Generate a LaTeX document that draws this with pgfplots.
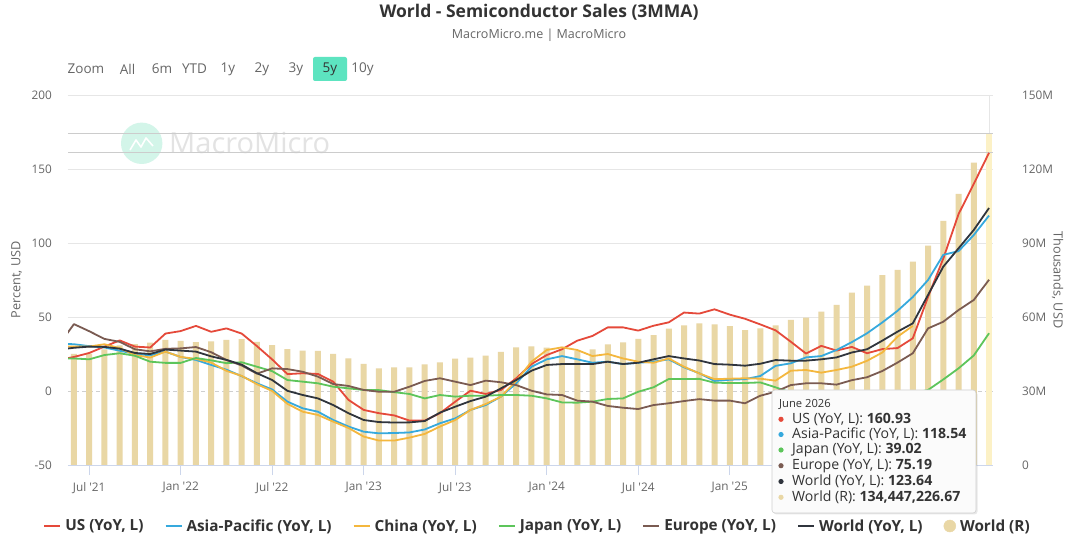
\documentclass[border=0pt]{standalone}
\usepackage{fontspec}
\setmainfont{Open Sans}
\usepackage{pgfplots}
\pgfplotsset{compat=1.18}
\usepackage{pgfplotstable}
\usetikzlibrary{shadows}

\definecolor{usc}{HTML}{E5493A}
\definecolor{apc}{HTML}{36A9DD}
\definecolor{cnc}{HTML}{F4B73E}
\definecolor{jpc}{HTML}{5DC55B}
\definecolor{euc}{HTML}{7A5B52}
\definecolor{wdc}{HTML}{30353D}
\definecolor{barc}{HTML}{E9D7A5}
\definecolor{barhi}{HTML}{FCF1C6}
\definecolor{gridc}{HTML}{E6E6E6}
\definecolor{crossc}{HTML}{CCCCCC}
\definecolor{axc}{HTML}{CCD6EB}
\definecolor{txtc}{HTML}{666666}
\definecolor{ttlc}{HTML}{333333}
\definecolor{btnc}{HTML}{5DE4C0}
\definecolor{wmc}{HTML}{D3F5E9}
\definecolor{wmt}{HTML}{E3E3E3}
\definecolor{ttbord}{HTML}{D0D0D0}
\definecolor{ttfill}{HTML}{FBFBFB}

\newcommand{\titlefont}{\fontsize{17.5}{20}\selectfont\bfseries}
\newcommand{\subfont}{\fontsize{12.5}{15}\selectfont}
\newcommand{\btnfont}{\fontsize{13.5}{16}\selectfont}
\newcommand{\tickfont}{\fontsize{11.8}{14}\selectfont}
\newcommand{\labfont}{\fontsize{12.7}{15}\selectfont}
\newcommand{\legfont}{\fontsize{15.3}{18}\selectfont\bfseries}
\newcommand{\ttfont}{\fontsize{14.1}{16}\selectfont}
\newcommand{\tthfont}{\fontsize{11.2}{13}\selectfont}

\pgfplotstableread{
idx us ap cn jp eu wd
-1 21 32 30 22 31 28
0 23 31.6 30 22 45.2 29.2
1 25.7 30.3 30 21.4 40.4 30
2 30 29.4 31.6 24.3 35.2 29.8
3 34.2 27.2 29 25.5 33.2 28.6
4 30 25.1 24.3 23.8 28.2 25.7
5 29.4 24.1 22.6 19.8 26.8 25
6 38.8 26.6 26.6 19 28.5 28
7 40.5 23 23 19 28.8 27.3
8 44 21 21.7 22.3 29.7 26.6
9 40 17.6 19.2 20.7 26.2 23.4
10 42.3 14.4 13.6 18.8 21 21
11 38.8 10 10.2 19.4 17.2 17.8
12 30.3 5.2 4.6 16.4 11.7 12
13 21.3 1 0 13.4 15.3 7.4
14 11.4 -7.2 -8.7 7.4 14.8 0.1
15 12 -11.7 -14 6.3 13 -2.7
16 11.5 -14 -16.2 5.2 9.7 -5
17 6.3 -19.6 -20.7 2.9 4.7 -9.5
18 -6 -24 -25 1.8 3.4 -15
19 -12.8 -27.5 -30.8 0.7 0.7 -19.6
20 -15 -28.6 -33.5 0.6 -0.5 -21
21 -16.5 -28.4 -33.5 -0.8 -0.5 -21.3
22 -20 -28 -31.5 -2 2.9 -21.2
23 -20 -26 -29 -5 6.8 -20.3
24 -15 -21.8 -24 -2.7 8.6 -14.6
25 -7.2 -18.5 -19.6 -3.8 6.3 -10.6
26 0.2 -12.8 -12.8 -3.2 4 -6.8
27 -2 -9.5 -8.8 -3.2 7 -3.8
28 0.7 -3.8 -3.8 -2.7 5.9 1.8
29 8.6 5.2 6.8 -2.7 4 7.4
30 18.2 16.4 19.8 -3.2 0.2 13.7
31 24.3 21.4 27.7 -5 -2.3 17.6
32 28.2 23.6 29.5 -7.7 -2.7 18.2
33 34 21.4 27.7 -7.9 -6.5 18.2
34 37.2 19.1 23.6 -7.2 -7.2 18.2
35 43 19.8 25 -5.4 -10.1 19.8
36 43 18.2 22 -5 -11.3 18.2
37 40.8 19.1 19.8 -0.5 -12.2 19.1
38 44.1 19.8 19.1 2.5 -9.5 21.4
39 46.4 21.4 22 8.1 -8.3 23.6
40 53 16 16.4 8.1 -6.8 22
41 52.3 12 11.9 8.2 -5.5 20.6
42 55.2 6.8 8 5.6 -6.5 18.2
43 51.6 7.6 8.3 5.4 -6.5 17.8
44 48.8 8 8.6 5.4 -8.3 17.1
45 45 10.1 8.3 5.8 -3.2 18.4
46 41 17 7 2.5 -0.5 20.9
47 33.3 18.7 13.7 -1 4 20.5
48 25.3 22.7 14.2 -2.5 5.2 20.5
49 30.5 23.6 12.4 -3 5.2 21.4
50 27.3 27.7 14.2 -3.5 4.3 22.7
51 29.8 33 16.4 -4 7.3 26
52 25.5 39 20.4 -3.5 9.3 28.2
53 28.3 46.3 26 -3 13.5 34
54 29 54.2 36.7 -2.5 19.2 40.1
55 35.6 63.5 44 -1.5 25.5 45.7
56 63.5 75 nan 0.7 42.3 64.9
57 89.5 92 nan 7.8 46.8 84
58 119.5 94.5 nan 15.3 54.7 96.4
59 140 105.4 nan 24 61.5 108.8
60 160.93 118.54 nan 39.02 75.19 123.64
}\linedata

\pgfplotstableread{
idx v
0 45.0
1 45.2
2 46.9
3 48.5
4 49.0
5 49.6
6 50.7
7 50.3
8 49.8
9 50.1
10 50.7
11 51.0
12 49.9
13 48.6
14 47.0
15 46.4
16 46.3
17 45.1
18 43.2
19 41.0
20 39.2
21 39.6
22 39.6
23 40.8
24 41.6
25 43.1
26 43.5
27 44.3
28 45.9
29 47.7
30 48.1
31 47.6
32 47.0
33 46.3
34 46.9
35 48.9
36 49.7
37 51.1
38 52.7
39 55.3
40 56.6
41 57.4
42 57.0
43 56.3
44 54.7
45 55.4
46 56.6
47 58.8
48 59.7
49 62.2
50 64.9
51 69.9
52 72.7
53 77.0
54 79.1
55 82.4
56 88.9
57 99.0
58 109.9
59 122.6
}\bardata

\begin{document}
\begin{tikzpicture}
\useasboundingbox (0pt,0pt) rectangle (1080pt,544pt);
\fill[white] (0pt,0pt) rectangle (1080pt,544pt);

% header
\node[font=\titlefont, text=ttlc] at (539pt,532pt) {World - Semiconductor Sales (3MMA)};
\node[font=\subfont, text=txtc] at (539pt,509pt) {MacroMicro.me | MacroMicro};
\fill[btnc, rounded corners=2pt] (313pt,463pt) rectangle (347pt,487pt);
\begin{scope}[every node/.style={font=\btnfont, text=txtc, inner sep=0pt}]
\node at (86pt,475pt) {Zoom};
\node at (127.5pt,475pt) {All};
\node at (162pt,475pt) {6m};
\node at (194.5pt,475pt) {YTD};
\node at (228pt,475pt) {1y};
\node at (262pt,475pt) {2y};
\node at (296pt,475pt) {3y};
\node[text=ttlc] at (330pt,475pt) {5y};
\node at (362.5pt,475pt) {10y};
\end{scope}

% watermark
\fill[wmc] (141.7pt,400.7pt) circle (20.7pt);
\draw[white, line width=1.6pt, line join=round] (130pt,394pt) -- (136pt,404pt) -- (141pt,397pt) -- (146pt,406pt) -- (153pt,398pt);
\node[font=\fontsize{29}{32}\selectfont, text=wmt, anchor=west, inner sep=0pt] at (169pt,400.7pt) {MacroMicro};

% axis labels
\node[font=\labfont, text=txtc, rotate=90] at (16.7pt,264pt) {Percent, USD};
\node[font=\labfont, text=txtc, rotate=-90] at (1057.5pt,264pt) {Thousands, USD};

% ---------- bar axis (right) ----------
\begin{axis}[
  at={(68pt,79pt)}, anchor=south west,
  width=925pt, height=370pt, scale only axis,
  xmin=-0.39, xmax=60.26, ymin=0, ymax=150,
  axis y line*=right, axis x line*=bottom,
  y axis line style={draw=none},
  x axis line style={draw=axc, line width=0.8pt},
  xtick={1,7,13,19,25,31,37,43,49,55},
  xticklabels={Jul \textquotesingle21,Jan \textquotesingle22,Jul \textquotesingle22,Jan \textquotesingle23,Jul \textquotesingle23,Jan \textquotesingle24,Jul \textquotesingle24,Jan \textquotesingle25,{},{}},
  x tick style={draw=axc, line width=0.8pt},
  tick align=outside, major tick length=10pt,
  xticklabel style={font=\tickfont, text=txtc, anchor=north, inner sep=0pt, yshift=-7pt},
  ytick={0,30,60,90,120,150},
  yticklabels={0,30M,60M,90M,120M,150M},
  y tick style={draw=none},
  yticklabel style={font=\tickfont, text=txtc, anchor=west, inner sep=0pt, xshift=19pt},
]
\draw[gridc, line width=0.8pt] (axis cs:-0.39,60) -- (axis cs:60.26,60);
\draw[gridc, line width=0.8pt] (axis cs:-0.39,90) -- (axis cs:60.26,90);
\draw[gridc, line width=0.8pt] (axis cs:-0.39,120) -- (axis cs:60.26,120);
\draw[gridc, line width=0.8pt] (axis cs:-0.39,150) -- (axis cs:60.26,150);
\draw[gridc!90!black, line width=0.8pt, dash pattern=on 4pt off 3pt] (axis cs:-0.39,30) -- (axis cs:60.26,30);
\draw[gridc, line width=0.8pt] (axis cs:60,0) -- (axis cs:60,150);
\addplot[ybar, bar width=6pt, bar shift=0pt, fill=barc, draw=none] table[x=idx,y=v] {\bardata};
\addplot[ybar, bar width=6pt, bar shift=0pt, fill=barhi, draw=none] coordinates {(60,134.447)};
\draw[crossc, line width=0.8pt] (axis cs:-0.39,134.447) -- (axis cs:60.26,134.447);
\end{axis}

% ---------- line axis (left) ----------
\begin{axis}[
  at={(68pt,79pt)}, anchor=south west,
  width=925pt, height=370pt, scale only axis,
  xmin=-0.39, xmax=60.26, ymin=-50, ymax=200,
  axis x line=none,
  axis y line*=left,
  y axis line style={draw=none},
  y tick style={draw=none},
  ytick={-50,0,50,100,150,200},
  yticklabels={-50,0,50,100,150,200},
  yticklabel style={font=\tickfont, text=txtc, anchor=east, inner sep=0pt, xshift=-16pt},
  legend style={at={(0.5065,-0.1649)}, anchor=center, draw=none, fill=none,
    font=\legfont, text=ttlc, legend columns=-1, inner sep=0pt,
    nodes={inner sep=0pt},
    /tikz/every odd column/.append style={column sep=4pt},
    /tikz/every even column/.append style={column sep=21pt}},
  legend image code/.code={\draw[#1, line width=2pt] (0pt,0pt) -- (16pt,0pt);},
]
\draw[crossc, line width=0.8pt] (axis cs:-0.39,160.93) -- (axis cs:60.26,160.93);
\addplot[usc, line width=1.8pt, line join=round] table[x=idx,y=us] {\linedata};
\addlegendentry{US (YoY, L)}
\addplot[apc, line width=1.8pt, line join=round] table[x=idx,y=ap] {\linedata};
\addlegendentry{Asia-Pacific (YoY, L)}
\addplot[cnc, line width=1.8pt, line join=round] table[x=idx,y=cn] {\linedata};
\addlegendentry{China (YoY, L)}
\addplot[jpc, line width=1.8pt, line join=round] table[x=idx,y=jp] {\linedata};
\addlegendentry{Japan (YoY, L)}
\addplot[euc, line width=1.8pt, line join=round] table[x=idx,y=eu] {\linedata};
\addlegendentry{Europe (YoY, L)}
\addplot[wdc, line width=1.8pt, line join=round] table[x=idx,y=wd] {\linedata};
\addlegendentry{World (YoY, L)}
\addlegendimage{legend image code/.code={\fill[barc] (6pt,0pt) circle (6pt);}}
\addlegendentry{World (R)}
\end{axis}

% ---------- tooltip ----------
\fill[ttfill, rounded corners=3pt, drop shadow={opacity=0.18, shadow xshift=1.5pt, shadow yshift=-1.5pt}] (772pt,31pt) rectangle (976pt,154pt);
\draw[ttbord, rounded corners=3pt, line width=0.6pt] (772pt,31pt) rectangle (976pt,154pt);
\node[font=\tthfont, text=ttlc, anchor=west, inner sep=0pt] at (779pt,140pt) {June 2026};
\begin{scope}[every node/.style={font=\ttfont, text=ttlc, anchor=west, inner sep=0pt}]
\fill[usc] (781pt,124.7pt) circle (2.6pt);
\node at (792pt,124.7pt) {US (YoY, L): \textbf{160.93}};
\fill[apc] (781pt,109.5pt) circle (2.6pt);
\node at (792pt,109.5pt) {Asia-Pacific (YoY, L): \textbf{118.54}};
\fill[jpc] (781pt,94pt) circle (2.6pt);
\node at (792pt,94pt) {Japan (YoY, L): \textbf{39.02}};
\fill[euc] (781pt,78.3pt) circle (2.6pt);
\node at (792pt,78.3pt) {Europe (YoY, L): \textbf{75.19}};
\fill[wdc] (781pt,62.5pt) circle (2.6pt);
\node at (792pt,62.5pt) {World (YoY, L): \textbf{123.64}};
\fill[barc] (781pt,46.7pt) circle (2.6pt);
\node at (792pt,46.7pt) {World (R): \textbf{134,447,226.67}};
\end{scope}
\end{tikzpicture}
\end{document}
